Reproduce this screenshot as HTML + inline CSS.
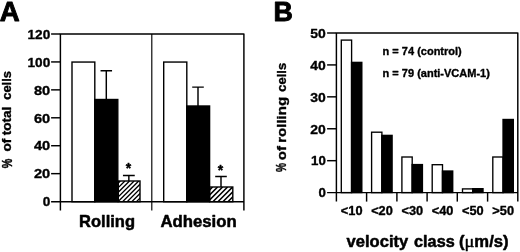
<!DOCTYPE html>
<html><head><meta charset="utf-8"><title>Figure</title>
<style>
html,body{margin:0;padding:0;background:#fff;}
svg{display:block;}
text{font-family:"Liberation Sans",sans-serif;font-weight:bold;fill:#000;stroke:#000;stroke-width:0.35px;stroke-linejoin:round;}
</style></head><body>
<svg width="520" height="252" viewBox="0 0 520 252">
<rect width="520" height="252" fill="#fff"/>
<text x="-0.3" y="21" font-size="27.6" style="stroke-width:0.9px">A</text>
<text x="273.6" y="20.5" font-size="26.8" style="stroke-width:0.9px">B</text>
<g stroke="#000" stroke-width="1.45" fill="none">
<path d="M60.4,33.4 V210.6 M243.9,33.4 V210.6 M60.4,34 H243.9 M51.1,201.7 H243.9"/>
<path d="M151.8,34 V210.6" stroke-width="1.15"/>
<path d="M51.1,34 H60.4"/>
<path d="M51.1,61.93 H60.4"/>
<path d="M51.1,89.86 H60.4"/>
<path d="M51.1,117.79 H60.4"/>
<path d="M51.1,145.72 H60.4"/>
<path d="M51.1,173.65 H60.4"/>
</g>
<text transform="translate(50.2,38.75) scale(1.0,1)" font-size="13.6" text-anchor="end">120</text>
<text transform="translate(50.2,66.68) scale(1.0,1)" font-size="13.6" text-anchor="end">100</text>
<text transform="translate(50.2,94.61) scale(1.075,1)" font-size="13.6" text-anchor="end">80</text>
<text transform="translate(50.2,122.54) scale(1.075,1)" font-size="13.6" text-anchor="end">60</text>
<text transform="translate(50.2,150.47) scale(1.075,1)" font-size="13.6" text-anchor="end">40</text>
<text transform="translate(50.2,178.4) scale(1.075,1)" font-size="13.6" text-anchor="end">20</text>
<text transform="translate(50.2,206.33) scale(1.0,1)" font-size="13.6" text-anchor="end">0</text>
<path d="M106.3,100 V70.7 M100.55,70.7 H112.05" stroke="#000" stroke-width="1.45" fill="none"/>
<path d="M128.85,181 V175.4 M122.95,175.4 H134.75" stroke="#000" stroke-width="1.45" fill="none"/>
<rect x="72" y="62.05" width="22.8" height="139.65" fill="#fff" stroke="#000" stroke-width="1.4"/>
<rect x="94.8" y="99.5" width="23" height="102.2" fill="#000" stroke="#000" stroke-width="1.4"/>
<clipPath id="c1"><rect x="118.3" y="181" width="21.7" height="20.7"/></clipPath>
<path d="M90.4,201.7 L111.1,181 M95,201.7 L115.7,181 M99.6,201.7 L120.3,181 M104.2,201.7 L124.9,181 M108.8,201.7 L129.5,181 M113.4,201.7 L134.1,181 M118,201.7 L138.7,181 M122.6,201.7 L143.3,181 M127.2,201.7 L147.9,181 M131.8,201.7 L152.5,181 M136.4,201.7 L157.1,181 M141,201.7 L161.7,181" stroke="#000" stroke-width="1.35" fill="none" clip-path="url(#c1)"/>
<rect x="118.3" y="181" width="21.7" height="20.7" fill="none" stroke="#000" stroke-width="1.4"/>
<path d="M198,106 V87.1 M192.2,87.1 H203.8" stroke="#000" stroke-width="1.45" fill="none"/>
<path d="M221,187 V176.4 M215.2,176.4 H226.8" stroke="#000" stroke-width="1.45" fill="none"/>
<rect x="163.7" y="62.05" width="23.1" height="139.65" fill="#fff" stroke="#000" stroke-width="1.4"/>
<rect x="186.7" y="106" width="22.9" height="95.7" fill="#000" stroke="#000" stroke-width="1.4"/>
<clipPath id="c2"><rect x="209.6" y="187" width="23.2" height="14.7"/></clipPath>
<path d="M187.9,201.7 L202.6,187 M192.9,201.7 L207.6,187 M197.9,201.7 L212.6,187 M202.9,201.7 L217.6,187 M207.9,201.7 L222.6,187 M212.9,201.7 L227.6,187 M217.9,201.7 L232.6,187 M222.9,201.7 L237.6,187 M227.9,201.7 L242.6,187 M232.9,201.7 L247.6,187" stroke="#000" stroke-width="1.55" fill="none" clip-path="url(#c2)"/>
<rect x="209.6" y="187" width="23.2" height="14.7" fill="none" stroke="#000" stroke-width="1.4"/>
<text x="128.4" y="173.1" font-size="14" text-anchor="middle">*</text>
<text x="220.6" y="174.7" font-size="14" text-anchor="middle">*</text>
<text x="79.1" y="226.55" font-size="16.3" style="stroke-width:0.5px" textLength="55.9" lengthAdjust="spacingAndGlyphs">Rolling</text>
<text x="160.4" y="226.55" font-size="16.3" style="stroke-width:0.5px" textLength="76.3" lengthAdjust="spacingAndGlyphs">Adhesion</text>
<text transform="translate(11.3,151.6) rotate(-90)" font-size="12" word-spacing="-0.3" textLength="45" lengthAdjust="spacingAndGlyphs">of total</text>
<text transform="translate(11.3,99.8) rotate(-90)" font-size="12" textLength="28.8" lengthAdjust="spacingAndGlyphs">cells</text>
<text transform="translate(11.6,168.2) rotate(-90) scale(0.98,1.3)" font-size="11">%</text>
<g stroke="#000" stroke-width="1.45" fill="none">
<path d="M336.4,32.4 V201.6 M517.8,32.4 V201.6 M336.4,33 H517.8 M327.1,192.6 H517.8"/>
<path d="M327.1,33.0 H336.4"/>
<path d="M327.1,64.92 H336.4"/>
<path d="M327.1,96.84 H336.4"/>
<path d="M327.1,128.76 H336.4"/>
<path d="M327.1,160.68 H336.4"/>
<path d="M366.6,192.6 V201.6"/>
<path d="M396.9,192.6 V201.6"/>
<path d="M427.1,192.6 V201.6"/>
<path d="M457.3,192.6 V201.6"/>
<path d="M487.6,192.6 V201.6"/>
</g>
<text transform="translate(325.8,37.75) scale(1.04,1)" font-size="13.4" text-anchor="end">50</text>
<text transform="translate(325.8,69.67) scale(1.04,1)" font-size="13.4" text-anchor="end">40</text>
<text transform="translate(325.8,101.59) scale(1.04,1)" font-size="13.4" text-anchor="end">30</text>
<text transform="translate(325.8,133.51) scale(1.04,1)" font-size="13.4" text-anchor="end">20</text>
<text transform="translate(325.8,165.43) scale(0.99,1)" font-size="13.4" text-anchor="end">10</text>
<text transform="translate(325.8,197.35) scale(0.99,1)" font-size="13.4" text-anchor="end">0</text>
<rect x="341.3" y="40.1" width="10.3" height="152.5" fill="#fff" stroke="#000" stroke-width="1.35"/>
<rect x="350.85" y="61.7" width="11.65" height="131.5" fill="#000"/>
<text transform="translate(351.7,215.0) scale(1.03,1)" font-size="12.4" text-anchor="middle">&lt;10</text>
<rect x="371.6" y="132.2" width="10.3" height="60.4" fill="#fff" stroke="#000" stroke-width="1.35"/>
<rect x="381.15" y="134.7" width="11.65" height="58.5" fill="#000"/>
<text transform="translate(382,215.0) scale(1.03,1)" font-size="12.4" text-anchor="middle">&lt;20</text>
<rect x="401.9" y="157" width="10.3" height="35.6" fill="#fff" stroke="#000" stroke-width="1.35"/>
<rect x="411.45" y="163.9" width="11.65" height="29.3" fill="#000"/>
<text transform="translate(412.3,215.0) scale(1.03,1)" font-size="12.4" text-anchor="middle">&lt;30</text>
<rect x="432.2" y="164.7" width="10.3" height="27.9" fill="#fff" stroke="#000" stroke-width="1.35"/>
<rect x="441.75" y="170.35" width="11.65" height="22.85" fill="#000"/>
<text transform="translate(442.6,215.0) scale(1.03,1)" font-size="12.4" text-anchor="middle">&lt;40</text>
<rect x="462.5" y="188.9" width="10.3" height="3.7" fill="#fff" stroke="#000" stroke-width="1.35"/>
<rect x="472.05" y="188" width="11.65" height="5.2" fill="#000"/>
<text transform="translate(472.9,215.0) scale(1.03,1)" font-size="12.4" text-anchor="middle">&lt;50</text>
<rect x="492.8" y="157" width="10.3" height="35.6" fill="#fff" stroke="#000" stroke-width="1.35"/>
<rect x="502.35" y="118.8" width="11.65" height="74.4" fill="#000"/>
<text transform="translate(503.2,215.0) scale(1.03,1)" font-size="12.4" text-anchor="middle">&gt;50</text>
<text x="382.6" y="54.7" font-size="11">n = 74 (control)</text>
<text x="382.6" y="76.7" font-size="11">n = 79 (anti-VCAM-1)</text>
<text x="346.6" y="247.45" font-size="15.9" style="stroke-width:0.5px" textLength="61.6" lengthAdjust="spacingAndGlyphs">velocity</text>
<text x="414.1" y="247.45" font-size="15.9" style="stroke-width:0.5px" textLength="40.6" lengthAdjust="spacingAndGlyphs">class</text>
<text x="459" y="247.45" font-size="15.9" style="stroke-width:0.5px" textLength="49.6" lengthAdjust="spacingAndGlyphs">(<tspan font-family="'Liberation Serif',serif" font-weight="normal" font-size="17.5">μ</tspan>m/s)</text>
<text transform="translate(285.7,160.2) rotate(-90)" font-size="12.3" word-spacing="-0.8" textLength="63.4" lengthAdjust="spacingAndGlyphs">of rolling</text>
<text transform="translate(285.7,91.7) rotate(-90)" font-size="12.3" textLength="28.8" lengthAdjust="spacingAndGlyphs">cells</text>
<text transform="translate(285.7,172) rotate(-90) scale(0.82,1.22)" font-size="12.3">%</text>
</svg>
</body></html>
